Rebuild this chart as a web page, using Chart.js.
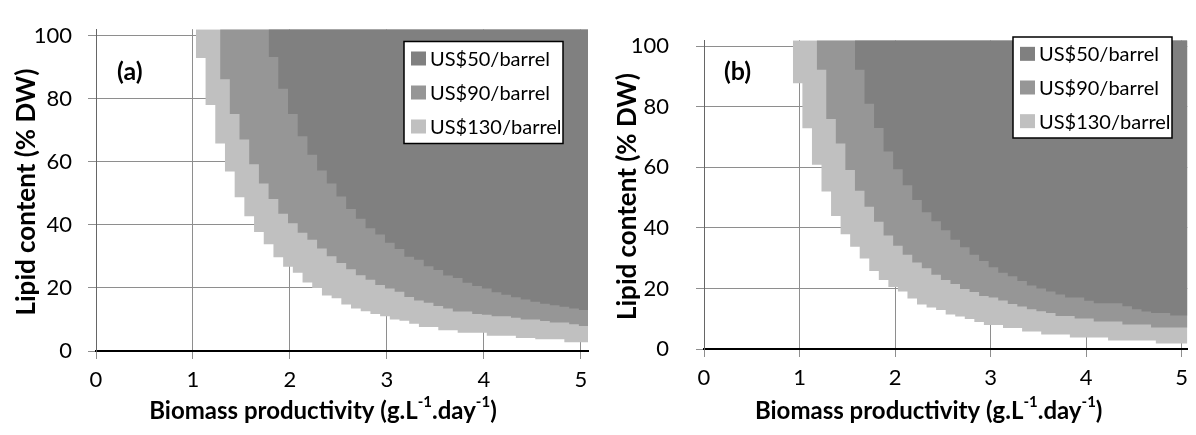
<!DOCTYPE html>
<html>
<head>
<meta charset="utf-8">
<script src="https://cdn.jsdelivr.net/npm/chart.js@4/dist/chart.umd.min.js"></script>
<style>
  body { margin: 0; background: #fff; width: 1196px; height: 435px; overflow: hidden; }
  .panel { position: absolute; top: 0; width: 598px; height: 435px; }
</style>
</head>
<body>
<div class="panel" style="left:0"><canvas id="chartA" width="598" height="435"></canvas></div>
<div class="panel" style="left:598px"><canvas id="chartB" width="598" height="435"></canvas></div>
<script>
// --- Data ---
const seriesLabels = ['US$50/barrel', 'US$90/barrel', 'US$130/barrel'];
const seriesColors = ['#808080', '#969696', '#c0c0c0'];
const xTicks = [0, 1, 2, 3, 4, 5];
const yTicks = [0, 20, 40, 60, 80, 100];
const yTitle = 'Lipid content (% DW)';
// [text, superscript?]
const xTitleParts = [['Biomass productivity (g.L', false], ['-1', true], ['.day', false], ['-1', true], [')', false]];

// panel (a): lower edge of each region, one value per step
const a50X = [1.78, 1.88, 1.98, 2.08, 2.18, 2.28, 2.38, 2.48, 2.58, 2.68, 2.78, 2.88, 2.98, 3.08, 3.18, 3.28, 3.38, 3.48, 3.58, 3.68,
              3.78, 3.88, 3.98, 4.08, 4.18, 4.28, 4.38, 4.48, 4.58, 4.68, 4.78, 4.88, 4.98, 5.1];
const a50Y = [93.2, 83.1, 75.1, 68.1, 62.2, 57.2, 53.1, 49.0, 45.0, 41.9, 38.9, 36.9, 34.3, 32.3, 29.9, 28.9, 26.9, 25.7, 23.9, 23.1,
              21.6, 20.6, 19.8, 18.6, 17.8, 17.0, 16.3, 15.6, 15.0, 14.5, 14.0, 13.5, 13.0, 13.0];
const a90X = [1.28, 1.38, 1.48, 1.58, 1.68, 1.78, 1.88, 1.98, 2.08, 2.18, 2.28, 2.38, 2.48, 2.58, 2.68, 2.78, 2.88, 2.98, 3.08, 3.18,
              3.28, 3.38, 3.48, 3.58, 3.68, 3.78, 3.88, 3.98, 4.08, 4.18, 4.28, 4.38, 4.48, 4.58, 4.68, 4.78, 4.88, 4.98, 5.1];
const a90Y = [86.1, 75.1, 67.0, 59.2, 53.1, 48.2, 43.5, 40.5, 37.5, 35.3, 32.5, 30.0, 27.9, 25.9, 24.0, 22.6, 20.9, 19.8, 18.8, 17.1,
              16.0, 15.3, 14.3, 13.5, 12.5, 12.5, 11.7, 11.5, 11.0, 11.0, 10.5, 10.0, 10.0, 9.5, 9.0, 9.0, 8.5, 7.9, 7.9];
const a130X = [1.03, 1.13, 1.23, 1.33, 1.43, 1.53, 1.63, 1.73, 1.83, 1.93, 2.03, 2.13, 2.23, 2.33, 2.43, 2.53, 2.63, 2.73, 2.83, 2.93,
               3.03, 3.13, 3.23, 3.33, 3.43, 3.53, 3.63, 3.73, 3.83, 3.93, 4.03, 4.13, 4.23, 4.33, 4.43, 4.53, 4.63, 4.73, 4.83, 4.93,
               5.03, 5.1];
const a130Y = [92.9, 78.0, 65.8, 56.9, 48.7, 42.7, 37.7, 33.8, 29.7, 26.7, 24.8, 21.7, 20.0, 17.6, 16.7, 14.7, 13.5, 12.6, 11.7, 11.0,
               10.0, 9.6, 8.6, 7.6, 7.6, 6.6, 6.6, 5.8, 5.8, 5.8, 4.8, 4.8, 4.8, 4.1, 4.1, 3.7, 3.7, 3.7, 2.8, 2.8,
               2.8, 2.8];

// panel (b)
const b50X = [1.58, 1.68, 1.78, 1.88, 1.98, 2.08, 2.18, 2.28, 2.38, 2.48, 2.58, 2.68, 2.78, 2.88, 2.98, 3.08, 3.18, 3.28, 3.38, 3.48,
              3.58, 3.68, 3.78, 3.88, 3.98, 4.08, 4.18, 4.28, 4.38, 4.48, 4.58, 4.68, 4.78, 4.88, 4.98, 5.1];
const b50Y = [92.2, 81.0, 73.0, 65.2, 59.4, 54.1, 49.2, 45.2, 42.2, 39.2, 36.1, 33.6, 31.1, 29.1, 27.0, 25.2, 24.0, 22.5, 21.0, 20.0,
              19.0, 18.0, 17.0, 17.0, 15.9, 15.1, 15.1, 15.1, 14.1, 13.1, 12.4, 11.9, 11.9, 11.1, 11.1, 11.1];
const b90X = [1.18, 1.28, 1.38, 1.48, 1.58, 1.68, 1.78, 1.88, 1.98, 2.08, 2.18, 2.28, 2.38, 2.48, 2.58, 2.68, 2.78, 2.88, 2.98, 3.08,
              3.18, 3.28, 3.38, 3.48, 3.58, 3.68, 3.78, 3.88, 3.98, 4.08, 4.18, 4.28, 4.38, 4.48, 4.58, 4.68, 4.78, 4.88, 4.98, 5.1];
const b90Y = [92.2, 76.0, 67.9, 59.1, 52.3, 47.0, 42.0, 37.5, 34.1, 31.1, 28.6, 26.7, 24.5, 22.8, 21.5, 19.8, 18.8, 17.5, 17.0, 16.0,
              14.9, 14.0, 13.1, 12.5, 11.9, 10.9, 10.9, 10.1, 10.1, 9.1, 9.1, 9.1, 8.1, 8.1, 8.1, 7.1, 7.1, 7.1, 7.1, 7.1];
const b130X = [0.93, 1.03, 1.13, 1.23, 1.33, 1.43, 1.53, 1.63, 1.73, 1.83, 1.93, 2.03, 2.13, 2.23, 2.33, 2.43, 2.53, 2.63, 2.73, 2.83,
               2.93, 3.03, 3.13, 3.23, 3.33, 3.43, 3.53, 3.63, 3.73, 3.83, 3.93, 4.03, 4.13, 4.23, 4.33, 4.43, 4.53, 4.63, 4.73, 4.83,
               4.93, 5.03, 5.1];
const b130Y = [87.8, 72.9, 60.9, 52.0, 43.9, 37.9, 33.8, 29.9, 25.8, 22.8, 20.5, 19.0, 16.7, 14.7, 13.7, 12.9, 11.4, 10.7, 9.9, 8.9,
               7.9, 7.9, 6.9, 6.9, 5.8, 5.8, 4.8, 4.8, 4.8, 3.8, 3.8, 3.8, 3.8, 2.8, 2.8, 2.8, 2.8, 2.8, 1.8, 1.8,
               1.8, 1.8, 1.8];

// --- Helpers ---
const FONT = 'Lato, "Open Sans", sans-serif';
const zip = (xs, ys) => xs.map((x, i) => ({ x, y: ys[i] }));

const drawRich = (ctx, parts, cx, cy, size) => {
    const big = `bold ${size}px ${FONT}`;
    const small = `bold ${Math.round(size * 0.64)}px ${FONT}`;
    const widths = parts.map(([t, sup]) => { ctx.font = sup ? small : big; return ctx.measureText(t).width; });
    let x = cx - widths.reduce((a, b) => a + b, 0) / 2;
    parts.forEach(([t, sup], i) => {
        ctx.font = sup ? small : big;
        ctx.fillText(t, x, sup ? cy - size * 0.36 : cy);
        x += widths[i];
    });
};

// titles, panel tag and boxed legend drawn on top of the plot
const decor = {
    id: 'decor',
    afterDraw(chart, _args, o) {
        const { ctx, chartArea: ca } = chart;
        ctx.save();
        ctx.fillStyle = '#000';
        ctx.textBaseline = 'middle';
        ctx.textAlign = 'left';
        drawRich(ctx, xTitleParts, (ca.left + ca.right) / 2 + o.xTitleDx, o.xTitleY, 24);

        ctx.save();
        ctx.translate(o.yTitleX, (ca.top + ca.bottom) / 2 + 2);
        ctx.rotate(-Math.PI / 2);
        ctx.textAlign = 'center';
        ctx.font = `bold 26px ${FONT}`;
        ctx.fillText(yTitle, 0, 0);
        ctx.restore();

        ctx.font = `bold 25px ${FONT}`;
        ctx.fillText(o.tag, o.tagX, o.tagY);

        const { x, y, w, h } = o.legend;
        ctx.fillStyle = '#fff';
        ctx.fillRect(x, y, w, h);
        ctx.strokeStyle = '#000';
        ctx.lineWidth = 1.5;
        ctx.strokeRect(x, y, w, h);
        const row = h / chart.data.datasets.length;
        ctx.font = `20px ${FONT}`;
        chart.data.datasets.forEach((ds, i) => {
            const cy = y + row * (i + 0.5);
            ctx.fillStyle = ds.backgroundColor;
            ctx.fillRect(x + 7, cy - 7, 15, 14);
            ctx.fillStyle = '#000';
            ctx.fillText(ds.label, x + 26, cy + 1);
        });
        ctx.restore();
    }
};

const makePanel = (id, series, o) => {
    const datasets = series.map((pts, i) => ({
        label: seriesLabels[i],
        data: pts,
        backgroundColor: seriesColors[i],
        borderWidth: 0,
        pointRadius: 0,
        stepped: 'before',
        fill: 'end',
    }));
    return new Chart(document.getElementById(id), {
        type: 'line',
        data: { datasets },
        plugins: [decor],
        options: {
            responsive: false,
            animation: false,
            layout: { padding: o.padding },
            plugins: { legend: { display: false }, tooltip: { enabled: false }, decor: o },
            scales: {
                x: {
                    type: 'linear', min: 0, max: o.xMax,
                    afterBuildTicks: (s) => { s.ticks = xTicks.map(v => ({ value: v })); },
                    afterFit: (s) => { s.height = o.xHeight; },
                    ticks: { color: '#000', font: { family: FONT, size: 22 }, padding: 8 },
                    grid: { color: '#8e8e8e', tickLength: 8, tickColor: '#8e8e8e' },
                    border: { color: '#000', width: 2 },
                },
                y: {
                    min: 0, max: 102,
                    afterBuildTicks: (s) => { s.ticks = yTicks.map(v => ({ value: v })); },
                    afterFit: (s) => { s.width = o.yWidth; },
                    ticks: { color: '#000', font: { family: FONT, size: 22 }, padding: o.yPad },
                    grid: { color: '#8e8e8e', tickLength: 8, tickColor: '#8e8e8e' },
                    border: { color: '#666', width: 1 },
                }
            }
        }
    });
};

makePanel('chartA', [zip(a50X, a50Y), zip(a90X, a90Y), zip(a130X, a130Y)], {
    padding: { left: 0, right: 10, top: 16, bottom: 0 },
    xMax: 5.074, xHeight: 84, yWidth: 96, yPad: 16,
    xTitleDx: -19, xTitleY: 411, yTitleX: 27,
    tag: '(a)', tagX: 117, tagY: 72,
    legend: { x: 404, y: 41.5, w: 159, h: 102 },
});

makePanel('chartB', [zip(b50X, b50Y), zip(b90X, b90Y), zip(b130X, b130Y)], {
    padding: { left: 0, right: 0, top: 13, bottom: 0 },
    xMax: 5.06, xHeight: 86, yWidth: 106, yPad: 27,
    xTitleDx: -17, xTitleY: 411, yTitleX: 30,
    tag: '(b)', tagX: 126, tagY: 71.5,
    legend: { x: 415, y: 37, w: 159, h: 101 },
});
</script>
</body>
</html>
